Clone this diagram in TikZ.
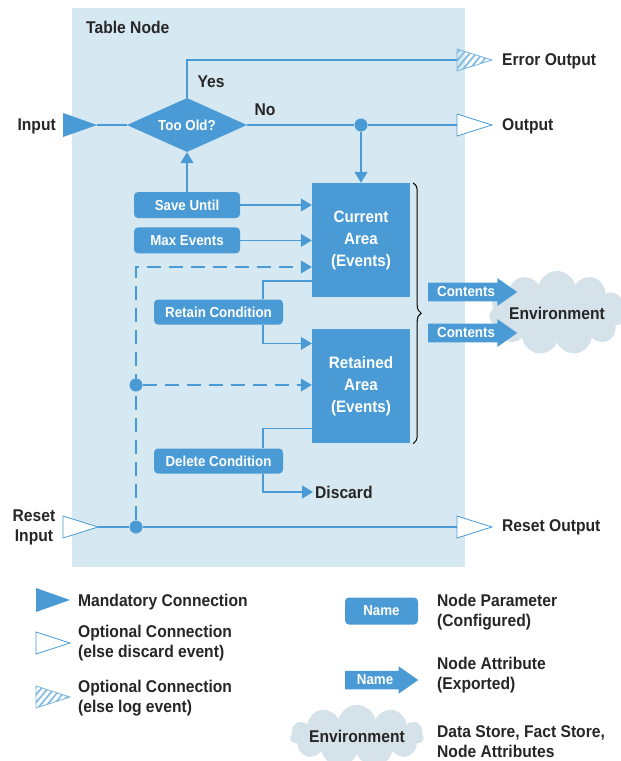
\documentclass[tikz,border=0pt]{standalone}
\usepackage{fontspec}
\setmainfont{Liberation Sans}[FakeStretch=0.92]
\usepackage{tikz}
\usetikzlibrary{positioning}
\usetikzlibrary{shapes,arrows.meta,decorations.pathreplacing,patterns.meta}
\definecolor{hpblue}{RGB}{74,155,213}
\definecolor{panelbg}{RGB}{214,232,241}
\definecolor{cloudbg}{RGB}{213,226,234}
\definecolor{labeltext}{RGB}{38,38,38}
\newcommand{\lblfont}{\bfseries\fontsize{17}{20}\selectfont}
\newcommand{\boxfont}{\bfseries\fontsize{14.5}{17}\selectfont}
\tikzstyle{lbltext} = [text=labeltext, font=\lblfont, inner sep=2pt]
\tikzstyle{param} = [rectangle, fill=hpblue, text=white, font=\boxfont,
                rounded corners=4pt, minimum height=26pt, inner sep=2pt]
\tikzstyle{area} = [rectangle, fill=hpblue, text=white, align=center,
                font=\bfseries\fontsize{16.5}{22}\selectfont, minimum width=98pt, minimum height=114pt]
\tikzstyle{decision} = [diamond, fill=hpblue, text=white, font=\boxfont, aspect=2.2,
                minimum width=120pt, minimum height=54pt, inner sep=1pt]
\tikzstyle{attr} = [single arrow, fill=hpblue, text=white, font=\boxfont, inner sep=4pt,
                single arrow head extend=4.5pt, single arrow tip angle=70, minimum height=89pt]
\tikzstyle{cloudnode} = [cloud, cloud puffs=11, cloud ignores aspect, fill=cloudbg,
                text=labeltext, font=\lblfont, inner sep=0pt]
\tikzstyle{dot} = [circle, fill=hpblue, minimum size=13pt, inner sep=0pt]
\tikzstyle{wire} = [draw=hpblue, line width=1.2pt]
\tikzstyle{line} = [wire, -{Triangle[length=11pt,width=13pt]}]
\tikzstyle{dashline} = [line, dash pattern=on 14pt off 8pt]
\tikzstyle{opt} = [fill=white, draw=hpblue, line width=0.8pt]
\tikzstyle{optlog} = [draw=hpblue!75, line width=0.8pt,
                pattern={Lines[angle=50,distance=5pt,line width=1.7pt]}, pattern color=hpblue!70]
\tikzstyle{bracestyle} = [decorate, decoration={brace, amplitude=8pt}, draw=black, line width=1pt]

\begin{document}
\begin{tikzpicture}[x=1pt, y=-1pt]
        \useasboundingbox (0,0) rectangle (621,761);
        \fill[white] (0,0) rectangle (621,761);
        \fill[panelbg] (72,8) rectangle (465,567);
        \node[lbltext, anchor=west](title) at (84,27) {Table Node};
        % decision and inputs
        \node[decision](toold) at (187,125) {Too Old?};
        \node[lbltext](yes) at (211,82) {Yes};
        \node[lbltext](no) at (265,110) {No};
        \coordinate (intip) at (97,125);
        \fill[hpblue] (intip) -- ++(-34,-12) -- ++(0,24) -- cycle;
        \node[lbltext, anchor=east](inlbl) at (58,126) {Input};
        \path[wire] (intip) -- (toold.west);
        \coordinate (errbase) at (457,60);
        \path[wire] (toold.north) |- (errbase);
        \draw[optlog] (errbase) ++(0,-11) -- ++(35,11) -- ++(-35,11) -- cycle;
        \node[lbltext, anchor=west](errlbl) at (500,61) {Error Output};
        \node[dot](split) at (361,125) {};
        \coordinate (outbase) at (457,125);
        \path[wire] (toold.east) -- (split) -- (outbase);
        \draw[opt] (outbase) ++(0,-11) -- ++(35,11) -- ++(-35,11) -- cycle;
        \node[lbltext, anchor=west](outlbl) at (500,126) {Output};
        % event areas
        \node[area](cur) at (361,240) {Current\\Area\\(Events)};
        \node[area, below=32pt of cur](ret) {Retained\\Area\\(Events)};
        \path[line] (split) -- (cur.north);
        \node[param, minimum width=106pt](save) at (187,205) {Save Until};
        \node[param, minimum width=106pt, below=9pt of save](maxev) {Max Events};
        \path[line] (save.north) -- (toold.south);
        \path[line] (save.east) -- (save.east -| cur.west);
        \path[line] (maxev.east) -- (maxev.east -| cur.west);
        \node[param, minimum width=129pt, minimum height=25pt](retc) at (218.5,312) {Retain Condition};
        \node[param, minimum width=129pt, minimum height=25pt](delc) at (218.5,461) {Delete Condition};
        \path[wire] ([yshift=-41pt]cur.west) -| ([xshift=44.5pt]retc.north);
        \path[line] ([xshift=44.5pt]retc.south) |- ([yshift=43pt]ret.west);
        \path[wire] ([yshift=-42pt]ret.west) -| ([xshift=44.5pt]delc.north);
        \node[lbltext, anchor=west](disc) at (313,492) {Discard};
        \path[line] ([xshift=44.5pt]delc.south) |- (disc.west);
        % reset
        \node[dot](rsplit) at (136,527) {};
        \node[dot](rsplit2) at (136,385) {};
        \coordinate (dcorner) at (136,267);
        \path[dashline] (rsplit) -- (dcorner) -- (dcorner -| cur.west);
        \path[dashline] (rsplit2) -- (rsplit2 -| ret.west);
        \coordinate (rsttip) at (98,527);
        \coordinate (rstbase) at (457,527);
        \draw[opt] (rsttip) -- ++(-35,-11) -- ++(0,22) -- cycle;
        \path[wire] (rsttip) -- (rsplit) -- (rstbase);
        \draw[opt] (rstbase) ++(0,-11) -- ++(35,11) -- ++(-35,11) -- cycle;
        \node[lbltext, align=center](rstlbl) at (34,527) {Reset\\Input};
        \node[lbltext, anchor=west](rstout) at (500,527) {Reset Output};
        % environment
        \draw[bracestyle] ([xshift=3pt]cur.north east) -- ([xshift=3pt]ret.south east);
        \node[cloudnode, minimum width=136pt, minimum height=84pt](env) at (557,313) {Environment};
        \node[attr, anchor=west](cont1) at (428,292) {Contents};
        \node[attr, anchor=west](cont2) at (428,333) {Contents};
        % legend
        \coordinate (lgmand) at (70,600);
        \fill[hpblue] (lgmand) -- ++(-34,-12) -- ++(0,24) -- cycle;
        \node[lbltext, anchor=west](lgmandtxt) at (76,602) {Mandatory Connection};
        \coordinate (lgopt) at (70,643);
        \draw[opt] (lgopt) -- ++(-34,-11) -- ++(0,22) -- cycle;
        \node[lbltext, anchor=west, align=left](lgopttxt) at (76,643) {Optional Connection\\(else discard event)};
        \coordinate (lglog) at (70,697);
        \draw[optlog] (lglog) -- ++(-34,-11) -- ++(0,22) -- cycle;
        \node[lbltext, anchor=west, align=left](lglogtxt) at (76,698) {Optional Connection\\(else log event)};
        \node[param, minimum width=73pt, minimum height=27pt](lgparam) at (381.5,611) {Name};
        \node[lbltext, anchor=west, align=left](lgparamtxt) at (435,612) {Node Parameter\\(Configured)};
        \node[attr, minimum height=73pt, anchor=west](lgattr) at (345,680) {Name};
        \node[lbltext, anchor=west, align=left](lgattrtxt) at (435,675) {Node Attribute\\(Exported)};
        \node[cloudnode, minimum width=112pt, minimum height=62pt](lgenv) at (357,736) {Environment};
        \node[lbltext, anchor=west, align=left](lgenvtxt) at (435,742) {Data Store, Fact Store,\\Node Attributes};
\end{tikzpicture}
\end{document}
